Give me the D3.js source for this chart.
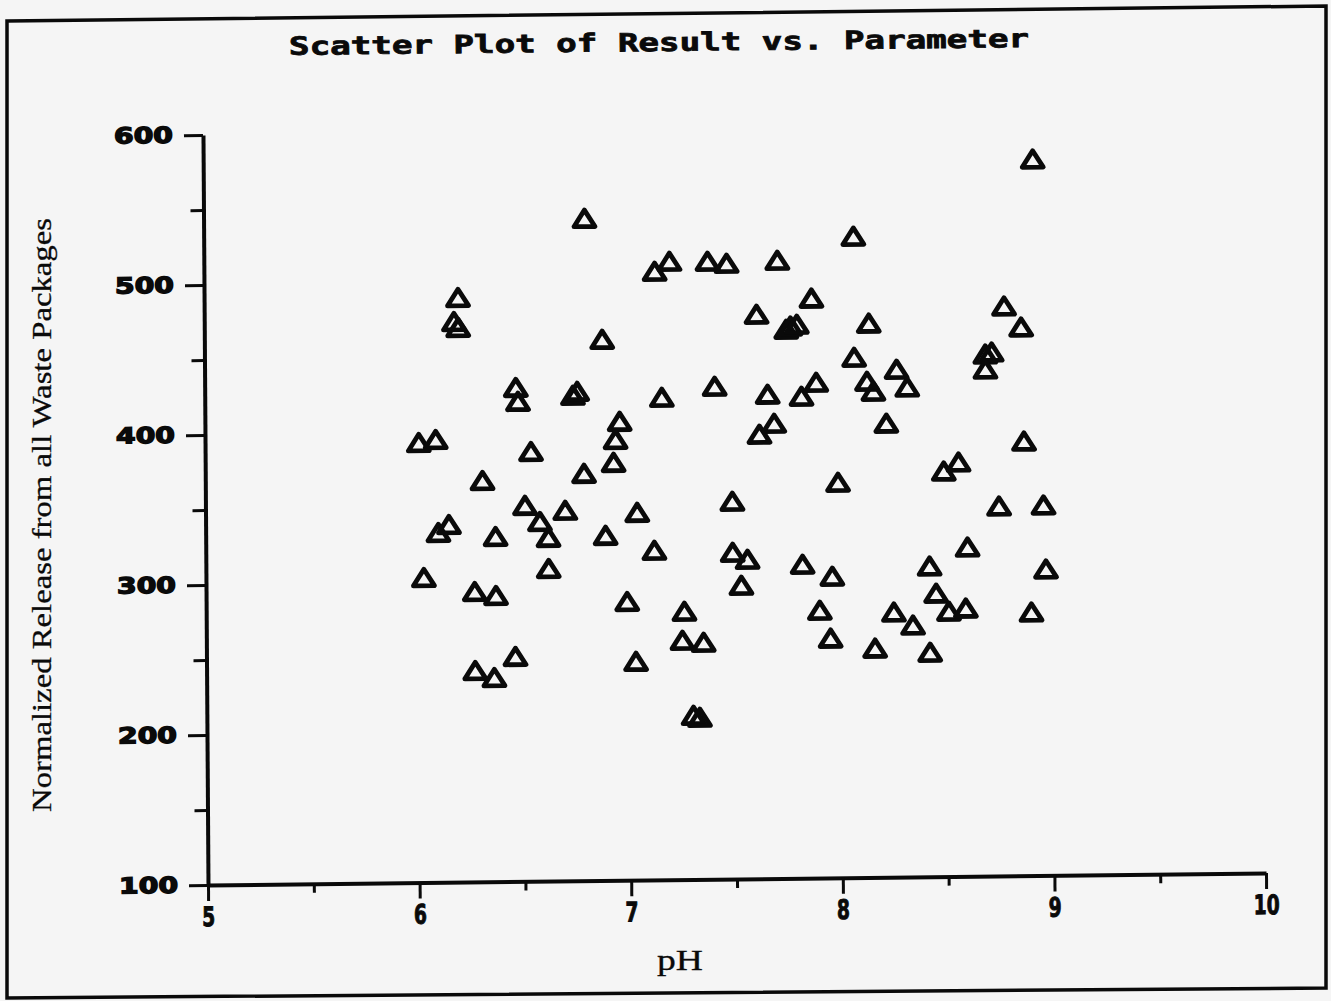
<!DOCTYPE html>
<html><head><meta charset="utf-8">
<script src="https://cdn.jsdelivr.net/npm/d3@7"></script>
<style>
html,body{margin:0;padding:0;background:#f5f5f5;}
svg{display:block;}
</style></head><body>
<svg id="chart" width="1331" height="1001"></svg>
<script>
const title = "Scatter Plot of Result vs. Parameter";
const xLabel = "pH";
const yLabel = "Normalized Release from all Waste Packages";
const xTickValues = [5, 6, 7, 8, 9, 10];
const xMinorTicks = [5.5, 6.5, 7.5, 8.5, 9.5];
const yTickValues = [100, 200, 300, 400, 500, 600];
const yMinorTicks = [150, 250, 350, 450, 550];

const pH = [6.01,6.09,6.03,6.10,6.15,6.20,6.18,6.20,6.31,6.27,
  6.37,6.37,6.27,6.36,6.47,6.48,6.46,6.54,6.51,6.58,
  6.62,6.62,6.70,6.76,6.74,6.80,6.79,6.88,6.89,6.93,
  6.96,6.94,6.99,7.04,7.03,7.13,7.20,7.16,7.12,7.26,
  7.25,7.35,7.30,7.33,7.38,7.47,7.41,7.49,7.49,7.56,
  7.53,7.61,7.71,7.62,7.66,7.69,7.75,7.77,7.80,7.87,
  7.82,7.89,7.82,7.96,7.90,7.95,7.99,8.07,8.07,8.14,
  8.13,8.16,8.22,8.16,8.27,8.32,8.25,8.34,8.42,8.45,
  8.42,8.49,8.56,8.51,8.60,8.59,8.69,8.72,8.69,8.78,
  8.75,8.86,8.87,8.92,8.90,8.96,8.97];
const release = [393.2,395.1,303.2,333.1,338.3,489.6,473.6,469.6,367.4,293.5,
  290.7,330.0,240.8,236.0,429.2,419.9,249.9,386.4,350.5,339.7,
  329.0,308.3,346.9,426.1,423.5,541.4,371.4,460.6,329.9,378.5,
  405.8,393.8,285.7,345.0,245.7,505.6,512.1,421.5,319.6,278.7,
  259.4,257.9,209.3,207.9,511.9,510.4,428.5,351.7,317.7,312.9,
  295.6,476.2,512.0,396.2,422.8,403.4,466.0,468.0,469.2,486.5,
  421.2,430.4,309.2,301.0,278.4,259.7,363.6,527.5,446.8,469.4,
  430.7,424.0,402.6,252.7,438.5,426.5,276.6,267.8,307.0,288.9,
  249.6,370.2,376.1,276.8,319.4,278.7,447.9,449.2,437.9,479.8,
  346.5,465.7,389.6,577.6,275.6,346.9,304.2];

const svg = d3.select("#chart");
const ink = "#0a0a0a";

// outer frame (scanned page border, slightly skewed)
svg.append("path")
  .attr("d", "M7,21 L1326,6 L1326,988 L7,998 Z")
  .attr("fill", "none").attr("stroke", ink).attr("stroke-width", 3.5);

// title
svg.append("text")
  .attr("x", 659).attr("y", 51)
  .attr("text-anchor", "middle")
  .attr("transform", "rotate(-0.6,659,42)")
  .attr("font-family", "'DejaVu Sans Mono', monospace")
  .attr("font-weight", "bold")
  .attr("font-size", 25)
  .attr("textLength", 740).attr("lengthAdjust", "spacingAndGlyphs")
  .attr("fill", ink).attr("stroke", ink).attr("stroke-width", 0.8)
  .text(title);

// y label
svg.append("text")
  .attr("transform", "translate(51,515) rotate(-90)")
  .attr("text-anchor", "middle")
  .attr("font-family", "'Liberation Serif', 'Times New Roman', serif")
  .attr("font-size", 28)
  .attr("textLength", 594).attr("lengthAdjust", "spacingAndGlyphs")
  .attr("fill", ink).attr("stroke", ink).attr("stroke-width", 0.3)
  .text(yLabel);

// x label
svg.append("text")
  .attr("x", 680).attr("y", 970)
  .attr("text-anchor", "middle")
  .attr("font-family", "'Liberation Serif', 'Times New Roman', serif")
  .attr("font-size", 30)
  .attr("textLength", 46).attr("lengthAdjust", "spacingAndGlyphs")
  .attr("fill", ink).attr("stroke", ink).attr("stroke-width", 0.3)
  .text(xLabel);

const x = d3.scaleLinear().domain([5, 10]).range([208, 1266]);
const y = d3.scaleLinear().domain([100, 600]).range([885, 135]);

// slight skew of the scanned page
const plot = svg.append("g")
  .attr("transform", "translate(208,885) matrix(1,-0.0113,0.0067,1,0,0) translate(-208,-885)");

// minor ticks
const xMinorAxis = plot.append("g").attr("transform", `translate(0,${y(100)})`)
  .call(d3.axisBottom(x).tickValues(xMinorTicks).tickSize(9).tickSizeOuter(0).tickFormat(""));
const yMinorAxis = plot.append("g").attr("transform", `translate(${x(5)},0)`)
  .call(d3.axisLeft(y).tickValues(yMinorTicks).tickSize(13).tickSizeOuter(0).tickFormat(""));
[xMinorAxis, yMinorAxis].forEach(a => {
  a.select(".domain").remove();
  a.selectAll(".tick line").attr("stroke", ink).attr("stroke-width", 3);
});

// major axes
const xAxis = plot.append("g").attr("transform", `translate(0,${y(100)})`)
  .call(d3.axisBottom(x).tickValues(xTickValues).tickSize(16).tickSizeOuter(0).tickPadding(6).tickFormat(d3.format("d")));
const yAxis = plot.append("g").attr("transform", `translate(${x(5)},0)`)
  .call(d3.axisLeft(y).tickValues(yTickValues).tickSize(19).tickSizeOuter(0).tickPadding(11).tickFormat(d3.format("d")));
[xAxis, yAxis].forEach(a => {
  a.select(".domain").attr("stroke", ink).attr("stroke-width", 4);
  a.selectAll(".tick line").attr("stroke", ink).attr("stroke-width", 3);
});
xAxis.selectAll(".tick text")
  .attr("fill", ink).attr("stroke", ink).attr("stroke-width", 1)
  .attr("font-family", "'DejaVu Sans', sans-serif")
  .attr("font-weight", "bold")
  .attr("font-size", 27)
  .attr("textLength", d => String(d).length * 13)
  .attr("lengthAdjust", "spacingAndGlyphs");
yAxis.selectAll(".tick text")
  .attr("fill", ink).attr("stroke", ink).attr("stroke-width", 1.4)
  .attr("font-family", "'DejaVu Sans', sans-serif")
  .attr("font-weight", "bold")
  .attr("font-size", 22)
  .attr("textLength", 59)
  .attr("lengthAdjust", "spacingAndGlyphs");

// triangle markers
const tri = "M0,-8.5 L10.5,8 L-10.5,8 Z";
plot.append("g").selectAll("path.pt")
  .data(pH.map((v, i) => ({ph: v, r: release[i]})))
  .join("path")
  .attr("class", "pt")
  .attr("d", tri)
  .attr("transform", d => `translate(${x(d.ph)},${y(d.r)})`)
  .attr("fill", "none")
  .attr("stroke", ink)
  .attr("stroke-width", 4.8)
  .attr("stroke-linejoin", "round");
</script>
</body></html>
